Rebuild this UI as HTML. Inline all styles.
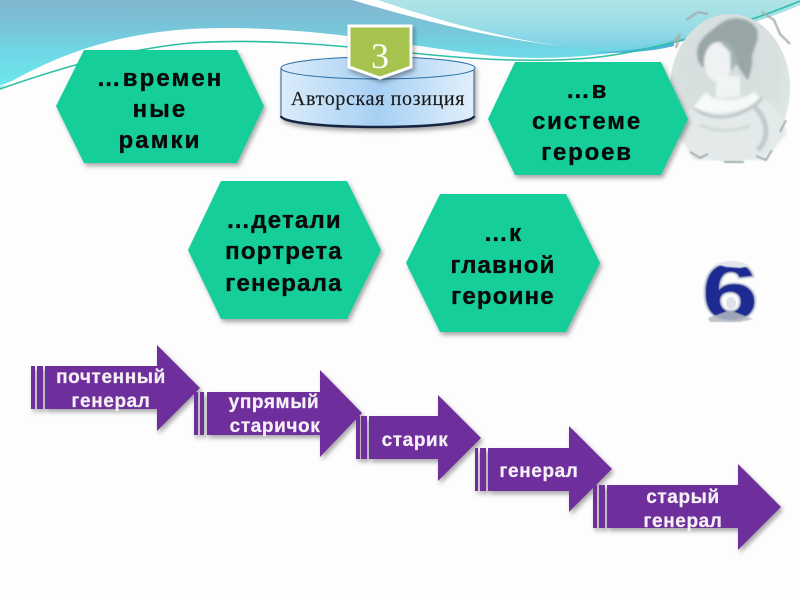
<!DOCTYPE html>
<html lang="ru">
<head>
<meta charset="utf-8">
<title>Авторская позиция</title>
<style>
html,body{margin:0;padding:0;background:#fdfdfd;}
svg{display:block;width:800px;height:600px;}
.h{font-family:"Liberation Sans",sans-serif;font-weight:bold;font-size:24px;letter-spacing:1.2px;fill:#0a0a0a;stroke:#0a0a0a;stroke-width:.35px;text-anchor:middle;}
.w{letter-spacing:2.1px;}
.a{font-family:"Liberation Sans",sans-serif;font-weight:bold;font-size:19px;letter-spacing:.6px;fill:#f4f0f6;stroke:#f4f0f6;stroke-width:.25px;text-anchor:middle;}
</style>
</head>
<body>
<svg xmlns="http://www.w3.org/2000/svg" width="800" height="600" viewBox="0 0 800 600">
<defs>
<linearGradient id="sky" gradientUnits="userSpaceOnUse" x1="0" y1="0" x2="0" y2="88">
<stop offset="0" stop-color="#82b5d0"/><stop offset="0.35" stop-color="#77c7da"/><stop offset="0.6" stop-color="#6fd8e6"/><stop offset="1" stop-color="#6ee8ee"/>
</linearGradient>
<linearGradient id="sky2" gradientUnits="userSpaceOnUse" x1="0" y1="0" x2="0" y2="50">
<stop offset="0" stop-color="#b0e4e6"/><stop offset="0.5" stop-color="#9bdde6"/><stop offset="1" stop-color="#78d0e8"/>
</linearGradient>
<linearGradient id="cyl" x1="0" y1="0" x2="1" y2="0">
<stop offset="0" stop-color="#dcecfa"/><stop offset="0.5" stop-color="#a6d0f4"/><stop offset="1" stop-color="#e2effb"/>
</linearGradient>
<radialGradient id="por" cx="0.45" cy="0.35" r="0.75">
<stop offset="0" stop-color="#d4dddc"/><stop offset="0.6" stop-color="#d8e0e0"/><stop offset="1" stop-color="#e6ecec"/>
</radialGradient>
<filter id="sh" x="-10%" y="-10%" width="125%" height="130%">
<feDropShadow dx="2" dy="3" stdDeviation="2.5" flood-color="#000" flood-opacity=".35"/>
</filter>
<filter id="bl" x="-5%" y="-5%" width="110%" height="110%"><feGaussianBlur stdDeviation="1.2"/></filter>
<filter id="soft"><feGaussianBlur stdDeviation=".5"/></filter>
</defs>

<rect width="800" height="600" fill="#fdfdfd"/>

<!-- header waves -->
<path d="M0 0H800V5C760 22 710 36 670 44C630 52 580 58 540 58C490 58 450 50 412 45C380 40 350 36 320 33C270 28 230 27 190 29C110 34 50 58 0 88Z" fill="url(#sky)"/>
<path d="M362 0C420 18 490 36 561 46C610 50 650 46 672 40C730 30 770 18 800 5V0Z" fill="url(#sky2)"/>
<path d="M352 0H378C430 18 500 38 561 46C490 38 420 20 352 0Z" fill="#fff"/>
<path d="M590 52C625 52 650 48 674 42L674 46C650 52 620 54 590 52Z" fill="#4fb0dc"/>
<path d="M0 89C60 68 120 50 190 43C270 38 340 46 412 53C470 59 530 63 590 58C650 52 740 26 800 1" fill="none" stroke="#2fbfa6" stroke-width="1.6"/>
<path d="M0 86C60 64 120 47 190 41C250 37 300 40 345 45" fill="none" stroke="#ffffff" stroke-width="1"/>

<!-- portrait -->
<g>
<ellipse cx="730" cy="88" rx="60" ry="74" fill="url(#por)"/>
<g filter="url(#bl)">
<path d="M697 52C698 40 708 33 720 24C732 14 752 18 757 30C760 42 752 48 752 60C752 68 750 74 748 80C742 74 738 64 730 56C722 48 712 52 708 62C706 72 700 66 698 60Z" fill="#98a6a6"/>
<ellipse cx="718" cy="62" rx="14" ry="20" fill="#eef2f2"/>
<path d="M718 40C730 40 736 50 737 62L731 72L730 52Z" fill="#a6b2b2"/>
<rect x="716" y="76" width="24" height="22" fill="#f0f4f4"/>
<path d="M682 118C690 100 745 88 768 102C780 112 786 125 786 135L764 160H694L678 135Z" fill="#e4eaea"/>
<path d="M693 107C712 124 744 118 762 98" fill="none" stroke="#b8c4c4" stroke-width="3"/>
<path d="M706 92C718 106 742 102 754 92L760 98C745 114 708 116 693 107Z" fill="#f8fafa"/>
<path d="M754 106C768 120 770 138 758 150" fill="none" stroke="#c0caca" stroke-width="5"/>
<path d="M700 125C715 132 740 132 750 125" fill="none" stroke="#cfd8d8" stroke-width="3"/>
</g>
<path d="M674 42L680 34L676 48M686 20L698 12L708 14" stroke="#a4b0b0" stroke-width="2.2" fill="none" filter="url(#soft)"/>
<path d="M720 7H750" stroke="#a4b0b0" stroke-width="1.5" stroke-dasharray="9 3" fill="none" filter="url(#soft)"/>
<path d="M762 12L774 20L780 34L790 44M690 152L700 158L708 154M724 162H744M756 156L766 160L772 150M786 120L780 132" stroke="#a4b0b0" stroke-width="2" fill="none" filter="url(#soft)"/>
</g>

<!-- hexagons -->
<g fill="#12ce99" filter="url(#sh)">
<polygon points="56,106 84,50 237,50 264,106 237,163 84,163"/>
<polygon points="488,119 515,62 661,62 688,119 661,175 515,175"/>
<polygon points="188,250 221,181 347,181 381,250 347,319 221,319"/>
<polygon points="406,263 440,194 566,194 600,263 566,332 440,332"/>
</g>
<text class="h w" x="160" y="86">…времен</text>
<text class="h w" x="160" y="117">ные</text>
<text class="h w" x="160" y="148">рамки</text>
<text class="h" x="587" y="98" style="letter-spacing:1.8px">…в</text>
<text class="h" x="587" y="129" style="letter-spacing:1.8px">системе</text>
<text class="h" x="587" y="160" style="letter-spacing:1.8px">героев</text>
<text class="h" x="284" y="228">…детали</text>
<text class="h" x="284" y="259">портрета</text>
<text class="h" x="284" y="291">генерала</text>
<text class="h" x="503" y="241">…к</text>
<text class="h" x="503" y="273">главной</text>
<text class="h" x="503" y="304">героине</text>

<!-- cylinder -->
<g filter="url(#sh)">
<path d="M281 68V116C281 122 320 127 378 127C436 127 474 122 474 116V68Z" fill="url(#cyl)" stroke="#2b5f96" stroke-width="1"/>
<path d="M281 116C281 122 320 127 378 127C436 127 474 122 474 116" fill="none" stroke="#12263f" stroke-width="2.5"/>
<ellipse cx="378" cy="68" rx="97" ry="11" fill="url(#cyl)" stroke="#2b6ea6" stroke-width="1"/>
</g>
<text x="378" y="105" font-family="'Liberation Serif',serif" font-size="20" letter-spacing=".65" fill="#1a1a1a" stroke="#1a1a1a" stroke-width=".15" text-anchor="middle">Авторская позиция</text>

<!-- badge -->
<g filter="url(#sh)">
<polygon points="349,26 411,26 411,67 380,78 349,67" fill="#a6c34d" stroke="#fff" stroke-width="3"/>
</g>
<text x="380" y="68" font-family="'Liberation Serif',serif" font-size="36" fill="#fff" text-anchor="middle">3</text>

<!-- number 6 -->
<g>
<text transform="translate(730 319) scale(1.3 1.02)" x="0" y="0" font-family="'Liberation Sans',sans-serif" font-weight="bold" font-size="78" fill="#1c2a92" stroke="#c8ced8" stroke-width="3" paint-order="stroke" text-anchor="middle" filter="url(#soft)">6</text>
<path d="M716 264C728 259 742 261 750 266L740 268L726 267Z" fill="#e2e6ec" filter="url(#soft)"/>
<ellipse cx="731" cy="303" rx="5" ry="6" fill="#dfe3e8"/>
<path d="M708 318L730 310L753 319L740 322H710Z" fill="#b4bac2" opacity=".85" filter="url(#soft)"/>
</g>

<!-- arrows -->
<g fill="#6e2e9c" filter="url(#sh)">
<path d="M31 366h4v43h-4zM37 366h6v43h-6zM45 366H157V345L200 388L157 431V409H45Z"/>
<path d="M194 392h4v43h-4zM200 392h4v43h-4zM207 392H320V370L362 413L320 457V435H207Z"/>
<path d="M356 416h4v43h-4zM361 416h6v43h-6zM369 416H438V395L481 438L438 481V459H369Z"/>
<path d="M475 448h3v43h-3zM480 448h6v43h-6zM488 448H569V426L612 469L569 512V491H488Z"/>
<path d="M593 485h4v43h-4zM599 485h6v43h-6zM607 485H738V464L781 507L738 550V528H607Z"/>
</g>
<text class="a" x="111" y="383">почтенный</text>
<text class="a" x="111" y="407">генерал</text>
<text class="a" x="274" y="408">упрямый</text>
<text class="a" x="275" y="432">старичок</text>
<text class="a" x="415" y="446">старик</text>
<text class="a" x="539" y="477">генерал</text>
<text class="a" x="683" y="503">старый</text>
<text class="a" x="683" y="527">генерал</text>
</svg>
</body>
</html>
